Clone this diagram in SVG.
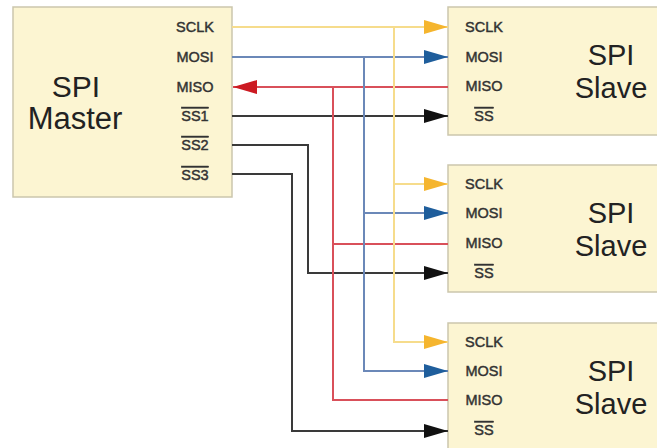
<svg xmlns="http://www.w3.org/2000/svg" width="657" height="448" viewBox="0 0 657 448">
<style>
.box{fill:#fcf5d2;stroke:#cbc6ad;stroke-width:1.5}
.pin{font-family:"Liberation Sans",Arial,sans-serif;font-size:14.5px;fill:#333;stroke:#333;stroke-width:0.45;text-anchor:middle;dominant-baseline:central}
.big{font-family:"Liberation Sans",Arial,sans-serif;font-size:30px;fill:#222;text-anchor:middle}
.ov{text-decoration:overline}
.w{fill:none;stroke-width:2}
.y{stroke:#f6dc8c}
.b{stroke:#6b88b8}
.r{stroke:#d9505a}
.k{stroke:#3a3a3a}
</style>
<defs>
<marker id="ay" markerUnits="userSpaceOnUse" markerWidth="26" markerHeight="16" refX="24" refY="7" orient="auto"><path d="M0,0 L24,7 L0,14 z" fill="#f5b52e"/></marker>
<marker id="ab" markerUnits="userSpaceOnUse" markerWidth="26" markerHeight="16" refX="24" refY="7" orient="auto"><path d="M0,0 L24,7 L0,14 z" fill="#1f5e9c"/></marker>
<marker id="ar" markerUnits="userSpaceOnUse" markerWidth="26" markerHeight="16" refX="24" refY="7" orient="auto"><path d="M0,0 L24,7 L0,14 z" fill="#cc1a22"/></marker>
<marker id="ak" markerUnits="userSpaceOnUse" markerWidth="26" markerHeight="16" refX="24" refY="7" orient="auto"><path d="M0,0 L24,7 L0,14 z" fill="#111"/></marker>
</defs>
<rect width="657" height="448" fill="#fff"/>
<g id="master">
<rect class="box" x="13" y="7" width="219" height="190"/>
<text class="big" x="76" y="97">SPI</text>
<text class="big" x="75" y="129" style="font-size:31px">Master</text>
<text class="pin" x="195" y="27">SCLK</text>
<text class="pin" x="195" y="57">MOSI</text>
<text class="pin" x="195" y="87">MISO</text>
<text class="pin ov" x="195" y="116">SS1</text>
<text class="pin ov" x="195" y="145">SS2</text>
<text class="pin ov" x="195" y="175">SS3</text>
</g>
<g id="slave1">
<rect class="box" x="448" y="7" width="220" height="128"/>
<text class="big" x="611" y="65" style="font-size:29px">SPI</text>
<text class="big" x="611" y="98" style="font-size:29px">Slave</text>
<text class="pin" x="484" y="27">SCLK</text>
<text class="pin" x="484" y="57">MOSI</text>
<text class="pin" x="484" y="86">MISO</text>
<text class="pin ov" x="484" y="116">SS</text>
</g>
<g id="slave2">
<rect class="box" x="448" y="165" width="220" height="127"/>
<text class="big" x="611" y="223" style="font-size:29px">SPI</text>
<text class="big" x="611" y="256" style="font-size:29px">Slave</text>
<text class="pin" x="484" y="184">SCLK</text>
<text class="pin" x="484" y="213">MOSI</text>
<text class="pin" x="484" y="243">MISO</text>
<text class="pin ov" x="484" y="273">SS</text>
</g>
<g id="slave3">
<rect class="box" x="448" y="323" width="220" height="135"/>
<text class="big" x="611" y="381" style="font-size:29px">SPI</text>
<text class="big" x="611" y="414" style="font-size:29px">Slave</text>
<text class="pin" x="484" y="342">SCLK</text>
<text class="pin" x="484" y="371">MOSI</text>
<text class="pin" x="484" y="400">MISO</text>
<text class="pin ov" x="484" y="430">SS</text>
</g>
<g id="connectors">
<path class="w k" d="M232,116 H448" marker-end="url(#ak)"/>
<path class="w k" d="M232,145 H308 V273 H448" marker-end="url(#ak)"/>
<path class="w k" d="M232,174 H292 V431 H448" marker-end="url(#ak)"/>
<path class="w r" d="M448,87 H233" marker-end="url(#ar)"/>
<path class="w r" d="M333,87 V400 H448"/>
<path class="w r" d="M333,244 H448"/>
<path class="w b" d="M232,57 H448" marker-end="url(#ab)"/>
<path class="w b" d="M364,57 V371 H448" marker-end="url(#ab)"/>
<path class="w b" d="M364,213 H448" marker-end="url(#ab)"/>
<path class="w y" d="M232,27 H448" marker-end="url(#ay)"/>
<path class="w y" d="M394,27 V342 H448" marker-end="url(#ay)"/>
<path class="w y" d="M394,184 H448" marker-end="url(#ay)"/>
</g>
</svg>
